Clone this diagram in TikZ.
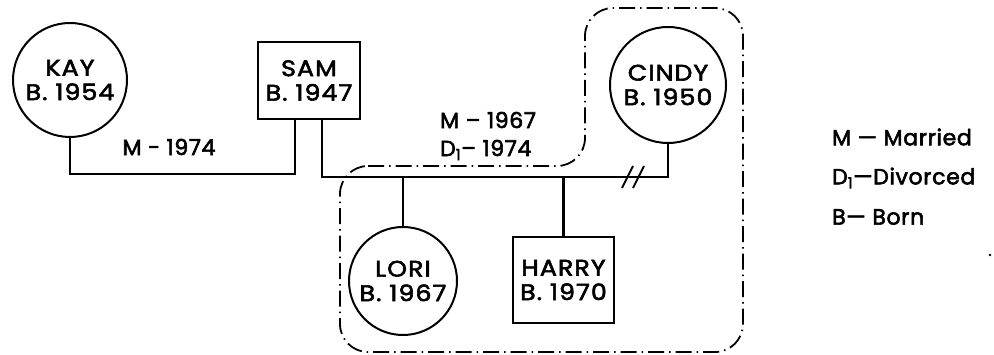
\documentclass[tikz,border=0pt]{standalone}
\usepackage{fontspec}
\newfontfamily\lett{Poppins}[FakeBold=2.6,LetterSpace=3]
\newfontfamily\nlett{Poppins}[FakeBold=2.6,LetterSpace=5,FakeStretch=1.12]
\begin{document}
\begin{tikzpicture}[x=1pt,y=-1pt,
  person/.style={draw,line width=2pt,inner sep=0pt,align=center,font=\fontsize{22.5}{24.5}\nlett},
  female/.style={person,circle},
  male/.style={person,rectangle},
  conn/.style={line width=2.6pt},
  lbl/.style={font=\fontsize{22}{28}\lett,inner sep=0pt,align=left},
  household/.style={line width=1.8pt,dash pattern=on 16pt off 5pt on 1.5pt off 5pt,rounded corners=28pt}]
\useasboundingbox (0,0) rectangle (994,355);
\node[female,minimum size=114pt] (kay) at (70,80) {KAY\\B. 1954};
\node[male,minimum width=102pt,minimum height=77pt] (sam) at (309,80.5) {SAM\\B. 1947};
\node[female,minimum size=116pt] (cindy) at (668,85) {CINDY\\B. 1950};
\node[female,minimum size=108pt] (lori) at (403,281) {LORI\\B. 1967};
\node[male,minimum width=101pt,minimum height=86pt] (harry) at (563.5,280) {HARRY\\B. 1970};
\coordinate (kl) at (295,174);
\coordinate (sr) at (322,177);
\draw[conn] (kay.south) |- (kl) -- (kl |- sam.south);
\draw[conn] (sam.south -| sr) -- (sr) -- (sr -| cindy.south) -- (cindy.south);
\draw[conn] (lori.north) -- (lori.north |- sr);
\draw[conn] (harry.north) -- (harry.north |- sr);
\coordinate (s1a) at (622,188); \coordinate (s1b) at (633,166);
\coordinate (s2a) at (633,188); \coordinate (s2b) at (644,166);
\draw[line width=2pt] (s1a) -- (s1b);
\draw[line width=2pt] (s2a) -- (s2b);
\node[lbl] (m74) at (169,147) {M - 1974};
\node[lbl,anchor=west] (m67) at (440,136) {M – 1967\\D\textsubscript{1}– 1974};
\draw[household] (340,166) -- (585,166) -- (585,8) -- (743,8) -- (743,352) -- (340,352) -- cycle;
\node[lbl,anchor=west] (l1) at (832,137) {M — Married};
\node[lbl,anchor=west] (l2) at (832,178) {D\textsubscript{1}—Divorced};
\node[lbl,anchor=west] (l3) at (832,217) {B— Born};
\fill (990,255) circle (1.3pt);
\end{tikzpicture}
\end{document}
